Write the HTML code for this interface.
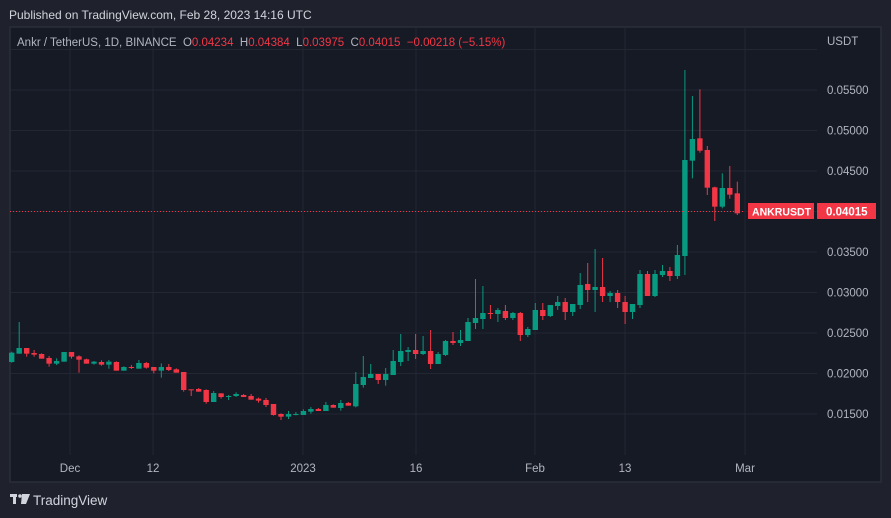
<!DOCTYPE html>
<html><head><meta charset="utf-8"><style>
html,body{margin:0;padding:0;background:#1f222c;width:891px;height:518px;overflow:hidden;font-family:"Liberation Sans",sans-serif}
text{white-space:pre}
</style></head><body>
<svg id="s" width="891" height="518" xmlns="http://www.w3.org/2000/svg" font-family="Liberation Sans, sans-serif">
<rect x="0" y="0" width="891" height="518" fill="#1f222c"/>
<text x="9" y="19" font-size="12" fill="#d1d4dc">Published on TradingView.com, Feb 28, 2023 14:16 UTC</text>
<rect x="10" y="27" width="871" height="455" fill="#161a25" stroke="#2a2e39" stroke-width="1.5"/>
<g id="grid" stroke="#232733" stroke-width="1"></g>
<g id="c"></g>
<line x1="10" y1="211.5" x2="745" y2="211.5" stroke="#f23645" stroke-dasharray="1,2" stroke-width="1"/>
<text x="17" y="46" font-size="11.5" fill="#b2b5be">Ankr / TetherUS, 1D, BINANCE  O<tspan fill="#f23645">0.04234</tspan>  H<tspan fill="#f23645">0.04384</tspan>  L<tspan fill="#f23645">0.03975</tspan>  C<tspan fill="#f23645">0.04015</tspan>  <tspan fill="#f23645">−0.00218 (−5.15%)</tspan></text>
<text x="827" y="45" font-size="11.5" fill="#b2b5be">USDT</text>
<g id="ax" font-size="11.5" fill="#b2b5be"></g>
<rect x="748" y="203" width="66" height="16" fill="#f23645"/>
<text x="752" y="215.5" font-size="11" fill="#fff" font-weight="bold" textLength="59" lengthAdjust="spacingAndGlyphs">ANKRUSDT</text>
<rect x="817" y="203" width="59" height="16" fill="#f23645"/>
<text x="826" y="215.5" font-size="11.5" fill="#fff" font-weight="bold">0.04015</text>
<g font-size="11.5" fill="#b2b5be" text-anchor="middle">
<text x="70" y="472">Dec</text><text x="153" y="472">12</text><text x="303" y="472">2023</text><text x="416" y="472">16</text><text x="535" y="472">Feb</text><text x="625" y="472">13</text><text x="745" y="472">Mar</text>
</g>
<g fill="#d1d4dc"><rect x="10" y="494" width="7" height="3"/><rect x="13" y="494" width="3" height="10"/><circle cx="20" cy="496" r="1.8"/><polygon points="22,494 30,494 26,504 21,504"/></g>
<text x="33" y="505" font-size="13.5" fill="#d1d4dc">TradingView</text>
</svg>
<script>
var ns="http://www.w3.org/2000/svg";
function el(p,t,a){var e=document.createElementNS(ns,t);for(var k in a)e.setAttribute(k,a[k]);p.appendChild(e);return e;}
var g=document.getElementById('grid'),ax=document.getElementById('ax');
[70,153,303,416,535,625,745].forEach(function(x){el(g,'line',{x1:x,y1:28,x2:x,y2:455});});
for(var p=0.015;p<=0.0601;p+=0.005){var y=90+(0.055-p)*8100;el(g,'line',{x1:11,y1:y,x2:817,y2:y});
 if(p<0.059){var t=el(ax,'text',{x:827,y:y+4});t.textContent=p.toFixed(5);}}
var Z={a:[310],b:[240],c:[60]};
var d=[
['a',128,156,125,158,1],['a',114,131,36,131,1],['a',114,131,114,140,0],['a',129,134,120,140,0],['a',132,146,130,146,0],
['a',144,161,138,170,0],['a',153,161,145,165,1],['a',126,155,126,155,1],['a',126,140,126,146,0],['a',139,149,136,188,0],
['a',148,161,146,161,0],['a',155,161,153,164,1],['a',156,164,151,167,0],['a',155,164,150,176,1],['a',156,182,154,182,0],
['a',171,182,169,182,1],['a',171,174,165,177,0],['a',159,176,150,176,1],['a',159,173,156,176,0],['a',171,182,171,190,0],
['a',171,182,160,203,1],['a',171,180,162,183,0],['a',178,188,175,188,0],['a',186,240,186,245,0],['a',238,241,238,258,0],
['a',237,245,234,245,0],['a',240,276,238,281,0],['a',249,276,243,276,1],['a',250,261,250,266,0],['a',258,260,255,270,1],
['a',252,258,247,261,1],['a',255,261,252,261,0],['a',258,269,252,269,0],['a',266,272,263,278,0],['a',270,285,264,291,0],
['a',282,315,282,317,0],['a',312,320,310,330,0],['a',312,320,303,327,1],['a',312,314,306,316,1],['a',303,315,298,315,1],
['a',297,305,291,311,1],['a',297,303,294,303,0],['a',285,303,276,303,1],['a',285,293,283,293,0],['a',279,294,270,302,1],
['a',279,287,276,287,0],['a',222,289,186,292,1],
['b',411,435,348,443,1],['b',402,414,372,414,1],['b',402,420,402,432,0],['b',402,420,384,437,1],['b',363,405,330,405,1],
['b',333,366,282,378,1],['b',330,336,321,363,1],['b',330,342,282,357,0],['b',333,342,288,345,1],['b',333,372,270,387,0],
['b',342,372,336,372,1],['b',303,345,300,348,1],['b',303,309,276,315,0],['b',300,309,270,318,1],['b',246,303,234,303,1],
['b',234,249,117,267,1],['b',219,237,138,267,1],['b',219,221,195,237,0],['b',210,222,204,246,1],['b',213,234,195,240,0],
['b',219,234,216,240,1],['b',219,285,216,303,0],['b',267,285,261,291,1],['b',210,270,189,270,1],['b',210,228,189,240,0],
['b',195,228,195,231,1],['b',186,198,168,210,1],['b',186,216,174,240,0],['b',192,216,192,228,1],['b',135,195,99,207,1],
['b',132,150,69,186,0],['b',141,150,27,216,1],['b',141,168,54,186,0],['b',159,168,153,186,1],['b',159,186,150,204,0],
['b',186,216,168,252,0],['b',192,216,192,237,1],['b',102,195,90,204,1],['b',102,168,93,168,0],['b',102,168,90,171,1],
['b',93,105,75,111,1],['b',93,108,81,123,0],['b',45,108,15,117,1],
['c',300,588,30,645,1],['c',237,302,108,355,1],['c',235,272,88,278,0],['c',270,383,258,405,0],['c',382,440,380,483,0],
['c',384,440,340,445,1],['c',384,404,318,416,0],['c',400,460,365,465,0]
];
var cg=document.getElementById('c');
d.forEach(function(r,i){var o=Z[r[0]][0];var x=11.7+i*7.48;var col=r[5]?'#089981':'#f23645';
 var bt=r[1]/3+o,bb=r[2]/3+o,wt=r[3]/3+o,wb=r[4]/3+o;
 el(cg,'line',{x1:x.toFixed(1),y1:wt,x2:x.toFixed(1),y2:wb,stroke:col,'stroke-width':1});
 el(cg,'rect',{x:(x-2.7).toFixed(1),y:bt,width:5.4,height:Math.max(1,bb-bt),fill:col});});
</script>
</body></html>
